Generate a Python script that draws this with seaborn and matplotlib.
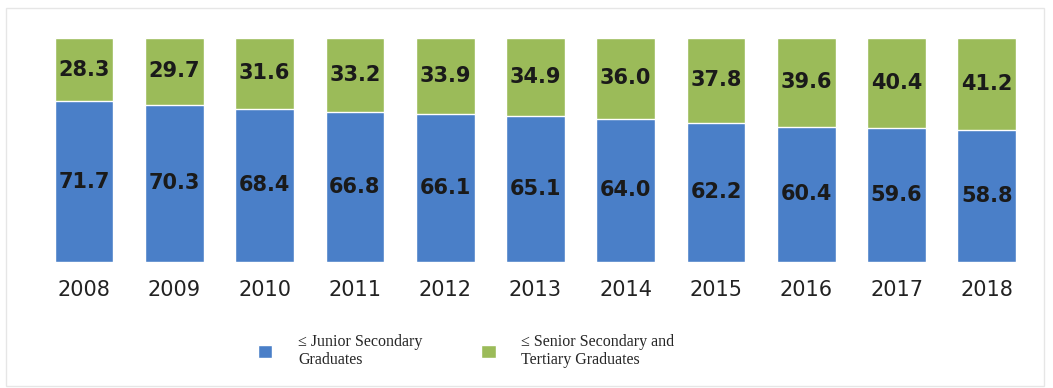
import seaborn as sns
import matplotlib.pyplot as plt
import pandas as pd
from matplotlib.patches import Patch, Rectangle

years = ['2008', '2009', '2010', '2011', '2012', '2013', '2014', '2015', '2016', '2017', '2018']
junior = [71.7, 70.3, 68.4, 66.8, 66.1, 65.1, 64.0, 62.2, 60.4, 59.6, 58.8]
senior = [28.3, 29.7, 31.6, 33.2, 33.9, 34.9, 36.0, 37.8, 39.6, 40.4, 41.2]
labels = ['\u2264 Junior Secondary\nGraduates', '\u2264 Senior Secondary and\nTertiary Graduates']

blue = '#4a7fc8'
green = '#9bbb59'

df = pd.DataFrame({'year': years, 'junior': junior, 'senior': senior})
df['total'] = df['junior'] + df['senior']

sns.set_style('white')
fig = plt.figure(figsize=(10.53, 3.88), dpi=100)
ax = fig.add_axes([0.037, 0.325, 0.943, 0.577])

# green drawn as the full stack, blue on top of it
sns.barplot(x='year', y='total', data=df, color=green, width=0.65, saturation=1, ax=ax)
sns.barplot(x='year', y='junior', data=df, color=blue, width=0.65, saturation=1, ax=ax)

for i in range(len(years)):
    ax.text(i, junior[i] / 2, f'{junior[i]:.1f}', ha='center', va='center',
            fontsize=15, fontweight='bold', color='#1a1a1a')
    ax.text(i, junior[i] + senior[i] / 2, f'{senior[i]:.1f}', ha='center', va='center',
            fontsize=15, fontweight='bold', color='#1a1a1a')

ax.set_ylim(0, 100)
ax.set_xlim(-0.5, len(years) - 0.5)
ax.set_xlabel('')
ax.set_ylabel('')
ax.set_yticks([])
ax.tick_params(axis='x', length=0, labelsize=15, pad=13, colors='#222222')
sns.despine(ax=ax, left=True, bottom=True)

handles = [Patch(facecolor=blue), Patch(facecolor=green)]
fig.legend(handles, labels, loc='center left', bbox_to_anchor=(258 / 1053, 1 - 351 / 388),
           ncol=2, frameon=False, prop={'family': 'Liberation Serif', 'size': 11.5},
           borderpad=0, borderaxespad=0, handlelength=0.9, handleheight=0.9,
           columnspacing=3.7, handletextpad=1.6, labelspacing=0.2)

fig.patches.append(Rectangle((0.006, 0.005), 0.985, 0.975, transform=fig.transFigure,
                             fill=False, edgecolor='#e6e6e6', linewidth=1))

plt.savefig('out.png', dpi=100)
